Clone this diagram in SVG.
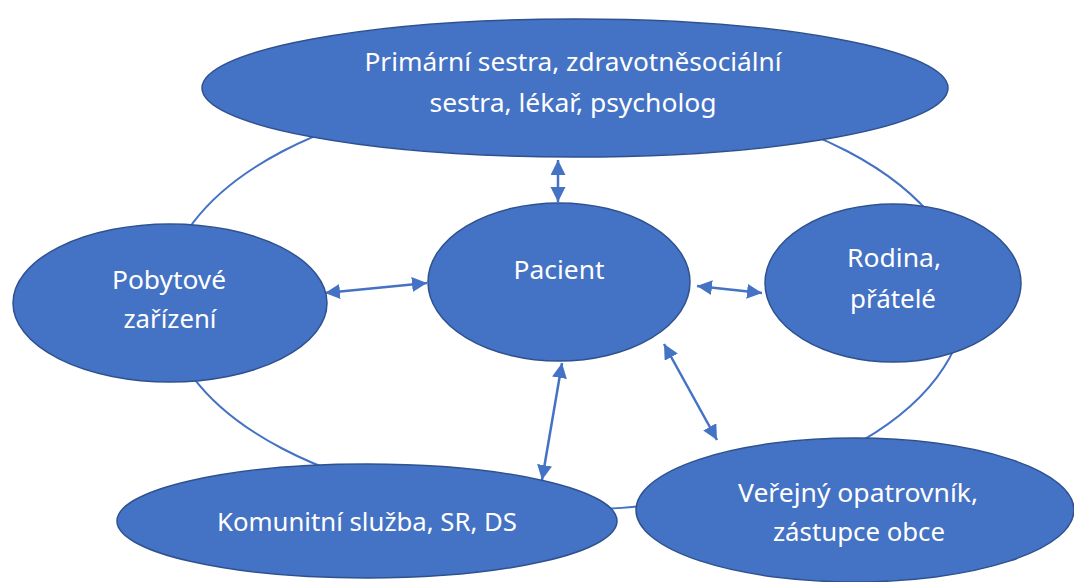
<svg xmlns="http://www.w3.org/2000/svg" width="1074" height="582" viewBox="0 0 1074 582">
<defs>
<style>
.node{fill:#4472C4;stroke:#2F528F;stroke-width:1.5}
.ring{fill:none;stroke:#4472C4;stroke-width:2}
.arr{fill:none;stroke:#4472C4;stroke-width:2.5;marker-start:url(#ah);marker-end:url(#ah)}
.t{fill:#FFFFFF;font-family:"Noto Sans","Open Sans","DejaVu Sans",sans-serif;font-size:25px;text-anchor:middle}
</style>
<marker id="ah" markerUnits="userSpaceOnUse" markerWidth="18" markerHeight="16" refX="15" refY="7.5" orient="auto-start-reverse">
<path d="M0,0 L15,7.5 L0,15 z" fill="#4472C4"/>
</marker>
</defs>
<rect width="1074" height="582" fill="#FFFFFF"/>
<g id="connectors">
<ellipse class="ring" cx="565" cy="300" rx="400" ry="210"/>
<line class="arr" x1="558" y1="160" x2="558" y2="202"/>
<line class="arr" x1="325" y1="293" x2="427" y2="283"/>
<line class="arr" x1="697" y1="286" x2="762" y2="293"/>
<line class="arr" x1="562" y1="363" x2="542" y2="480"/>
<line class="arr" x1="664" y1="344" x2="717" y2="440"/>
</g>
<g id="node-top">
<ellipse class="node" cx="575" cy="88" rx="373" ry="69"/>
<text class="t" x="573" y="71" textLength="417" lengthAdjust="spacingAndGlyphs">Primární sestra, zdravotněsociální</text>
<text class="t" x="573" y="112" textLength="287" lengthAdjust="spacingAndGlyphs">sestra, lékař, psycholog</text>
</g>
<g id="node-pacient">
<ellipse class="node" cx="559" cy="282" rx="131" ry="79"/>
<text class="t" x="559" y="279" textLength="91" lengthAdjust="spacingAndGlyphs">Pacient</text>
</g>
<g id="node-pobytove">
<ellipse class="node" cx="170" cy="303" rx="157" ry="79"/>
<text class="t" x="169" y="289" textLength="114" lengthAdjust="spacingAndGlyphs">Pobytové</text>
<text class="t" x="170" y="328" textLength="93" lengthAdjust="spacingAndGlyphs">zařízení</text>
</g>
<g id="node-rodina">
<ellipse class="node" cx="893" cy="283" rx="128" ry="79"/>
<text class="t" x="894" y="267" textLength="94" lengthAdjust="spacingAndGlyphs">Rodina,</text>
<text class="t" x="893" y="308" textLength="86" lengthAdjust="spacingAndGlyphs">přátelé</text>
</g>
<g id="node-komunitni">
<ellipse class="node" cx="367" cy="521" rx="250" ry="57"/>
<text class="t" x="367" y="531" textLength="300" lengthAdjust="spacingAndGlyphs">Komunitní služba, SR, DS</text>
</g>
<g id="node-verejny">
<ellipse class="node" cx="855" cy="510" rx="219" ry="72"/>
<text class="t" x="858" y="502" textLength="240" lengthAdjust="spacingAndGlyphs">Veřejný opatrovník,</text>
<text class="t" x="859" y="541" textLength="172" lengthAdjust="spacingAndGlyphs">zástupce obce</text>
</g>
</svg>
